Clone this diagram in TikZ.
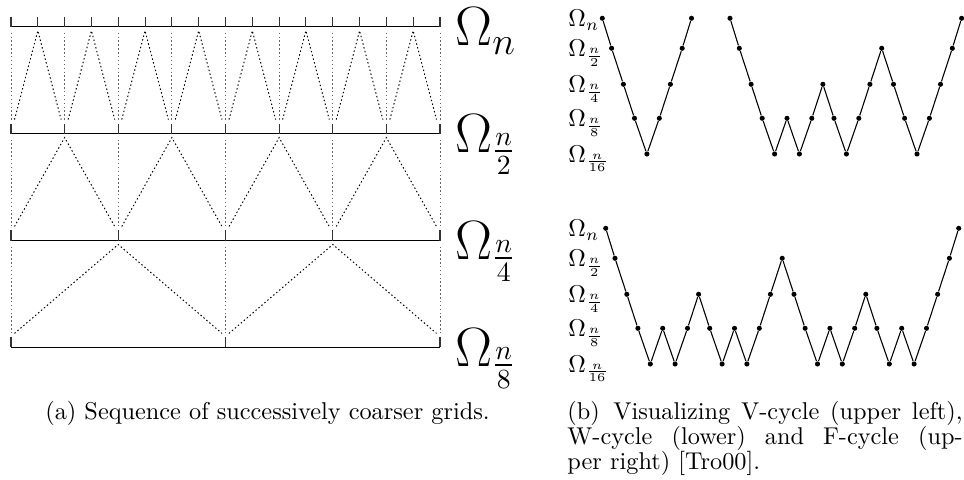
\RequirePackage{fix-cm}
\documentclass[tikz,border=0pt]{standalone}
\usepackage{amsmath}
\usepackage{tikz}

% one run of a multigrid cycle: name prefix, start x, top y, levels
\newcommand{\cyclerun}[4]{%
  \xdef\cx{#2}%
  \foreach \lv [count=\i, remember=\lv as \lp (initially -1)] in {#4} {
    \ifnum\lp<0 \else
      \pgfmathtruncatemacro\m{min(\lp,\lv)}
      \pgfmathsetmacro\sx{\cx+{9.3,11.8,11.1,12.4}[\m]}
      \xdef\cx{\sx}
    \fi
    \pgfmathsetmacro\ly{#3+{0,30,66,100,135.7}[\lv]}
    \node[dot] (#1\i) at (\cx,\ly) {};
    \ifnum\i>1 \pgfmathtruncatemacro\j{\i-1}\draw[cyc] (#1\j) -- (#1\i); \fi
  }%
}

\begin{document}
\begin{tikzpicture}[x=0.4115pt, y=-0.4115pt,
  gridln/.style={line width=0.45pt},
  tickln/.style={line width=0.45pt, black!80},
  zig/.style={line width=0.4pt, dash pattern=on 0.6pt off 1pt},
  vdot/.style={line width=0.4pt, black!60, dash pattern=on 0.6pt off 1pt},
  biglbl/.style={anchor=base west, inner sep=0pt, font=\fontsize{22.8}{27}\selectfont},
  lvl/.style={anchor=base west, inner sep=0pt, font=\fontsize{10}{12}\selectfont},
  dot/.style={circle, fill, inner sep=0pt, minimum size=2.1pt},
  cyc/.style={line width=0.45pt},
  capt/.style={inner sep=0pt, font=\fontsize{10}{10.3}\selectfont}
]
\useasboundingbox (0,0) rectangle (964,480);

% grids with their nodes
\foreach \k in {0,1,2,3} {
  \pgfmathsetmacro\y{26.7+106.9*\k}
  \pgfmathtruncatemacro\n{16/2^\k}
  \draw[gridln] (11,\y) -- (440,\y);
  \foreach \j in {0,...,\n}
    \draw[tickln] ({11+\j*429/\n},\y) -- ++(0,-10);
}

% transfer between two grids
\foreach \k in {0,1,2} {
  \pgfmathsetmacro\ya{26.7+106.9*\k+4}
  \pgfmathsetmacro\yb{26.7+106.9*(\k+1)-14}
  \pgfmathsetmacro\h{429/(16/2^\k)}
  \pgfmathtruncatemacro\m{8/2^\k}
  \pgfmathtruncatemacro\mm{\m-1}
  \foreach \i in {0,...,\m}
    \draw[vdot] ({11+2*\i*\h},\ya+2) -- ({11+2*\i*\h},\yb);
  \foreach \i in {0,...,\mm}
    \draw[zig] ({11+2*\i*\h+3.5},\yb) -- ({11+(2*\i+1)*\h},\ya) -- ({11+(2*\i+2)*\h-3.5},\yb);
}

\node[biglbl] (om0) at (455,45.7)  {$\Omega_n$};
\node[biglbl] (om1) at (455,152.6) {$\Omega_{\frac{n}{2}}$};
\node[biglbl] (om2) at (455,259.5) {$\Omega_{\frac{n}{4}}$};
\node[biglbl] (om3) at (455,366.4) {$\Omega_{\frac{n}{8}}$};

% level labels of the cycles
\foreach \sub/\dy [count=\c from 0] in {n/0,\frac{n}{2}/30,\frac{n}{4}/66,\frac{n}{8}/100,\frac{n}{16}/135.7} {
  \node[lvl] (vl\c) at (568,18.3+\dy+8.4)  {$\Omega_{\sub}$};
  \node[lvl] (wl\c) at (568,228.3+\dy+8.4) {$\Omega_{\sub}$};
}

\cyclerun{v}{602.3}{18.3}{0,1,2,3,4,3,2,1,0}
\cyclerun{f}{730}{18.3}{0,1,2,3,4,3,4,3,2,3,4,3,2,1,2,3,4,3,2,1,0}
\cyclerun{w}{605.7}{228.3}{0,1,2,3,4,3,4,3,2,3,4,3,4,3,2,1,2,3,4,3,4,3,2,3,4,3,4,3,2,1,0}

\node[capt, anchor=base] (capa) at (267.5,419) {(a) Sequence of successively coarser grids.};
\node[capt, anchor=north west, text width=162.6pt, align=justify] (capb) at (567,401)
  {\hangindent=18.9pt\hangafter=1 \makebox[18.9pt][l]{(b)}Visualizing V-cycle (upper left),\linebreak W-cycle (lower) and F-cycle (up-\linebreak per right) [Tro00].};
\end{tikzpicture}
\end{document}
